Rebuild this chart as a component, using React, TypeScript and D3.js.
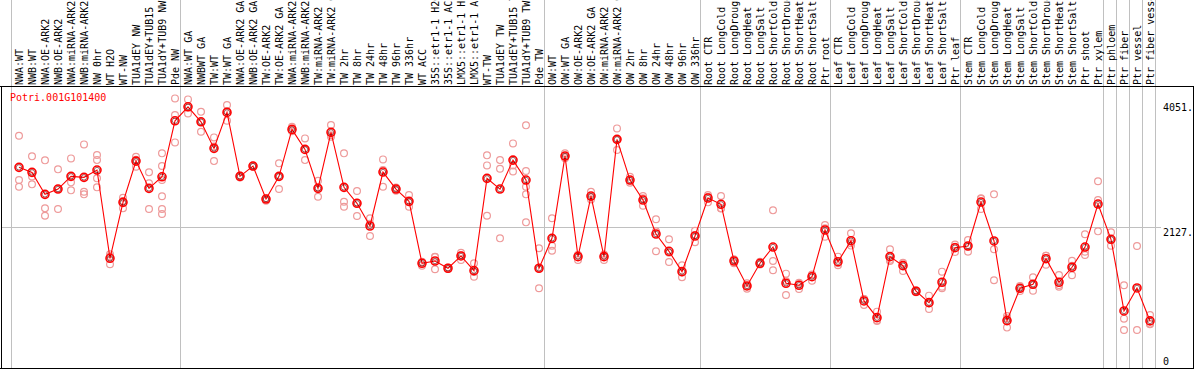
import React from "react";
import * as d3 from "d3";

const title = "Potri.001G101400";

const labels: string[] = [
  "NWA:WT", "NWB:WT", "NWA:OE-ARK2", "NWB:OE-ARK2", "NWA:miRNA-ARK2", "NWB:miRNA-ARK2", "NW 0hr", "WT H2O", "WT-NW", "TUA1dEY NW", "TUA1dEY+TUB15 NW", "TUA1dY+TUB9 NW", "Pde NW",
  "NWA:WT GA", "NWBWT GA", "TW:WT", "TW:WT GA", "NWA:OE-ARK2 GA", "NWB:OE-ARK2 GA", "TW:OE-ARK2", "TW:OE-ARK2 GA", "NWA:miRNA-ARK2 GA", "NWB:miRNA-ARK2 GA", "TW:miRNA-ARK2", "TW:miRNA-ARK2 GA", "TW 2hr", "TW 8hr", "TW 24hr", "TW 48hr", "TW 96hr", "TW 336hr", "WT ACC", "35S::etr1-1 H2O", "35S::etr1-1 ACC", "LMX5::etr1-1 H2O", "LMX5::etr1-1 ACC", "WT-TW", "TUA1dEY TW", "TUA1dEY+TUB15 TW", "TUA1dY+TUB9 TW", "Pde TW",
  "OW:WT", "OW:WT GA", "OW:OE-ARK2", "OW:OE-ARK2 GA", "OW:miRNA-ARK2", "OW:miRNA-ARK2 GA", "OW 2hr", "OW 8hr", "OW 24hr", "OW 48hr", "OW 96hr", "OW 336hr",
  "Root CTR", "Root LongCold", "Root LongDrought", "Root LongHeat", "Root LongSalt", "Root ShortCold", "Root ShortDrought", "Root ShortHeat", "Root ShortSalt", "Ptr root",
  "Leaf CTR", "Leaf LongCold", "Leaf LongDrought", "Leaf LongHeat", "Leaf LongSalt", "Leaf ShortCold", "Leaf ShortDrought", "Leaf ShortHeat", "Leaf ShortSalt", "Ptr leaf",
  "Stem CTR", "Stem LongCold", "Stem LongDrought", "Stem LongHeat", "Stem LongSalt", "Stem ShortCold", "Stem ShortDrought", "Stem ShortHeat", "Stem ShortSalt", "Ptr shoot", "Ptr xylem",
  "Ptr phloem", "Ptr fiber", "Ptr vessel", "Ptr fiber vessel",
];

const means: number[] = [
  3090, 3010, 2661, 2745, 2947, 2931, 3047, 1646, 2534, 3189, 2756, 2940, 3829,
  4051, 3813, 3391, 3962, 2947, 3110, 2587, 2947, 3692, 3375, 2756, 3645, 2772, 2519, 2159, 3015, 2745, 2550, 1567, 1603, 1488, 1683, 1450, 2915, 2745, 3205, 2888, 1488,
  1963, 3269, 1672, 2634, 1672, 3534, 2888, 2571, 2032, 1757, 1434, 2000,
  2603, 2503, 1603, 1207, 1567, 1825, 1250, 1218, 1354, 2095,
  1592, 1925, 969, 704, 1672, 1529, 1123, 942, 1266, 1814,
  1841, 2539, 1921, 657, 1170, 1234, 1640, 1266, 1504, 1825, 2507,
  1948, 810, 1175, 652,
];

const replicates: number[][] = [
  [3591, 2888, 2782], [3264, 2946, 2820], [3201, 2439, 2322], [3058, 2749, 2428], [3232, 2852, 2725],
  [3454, 2703, 2661], [3285, 3205, 2915, 2772], [1710, 1677, 1551], [2607, 2556, 2439], [3258, 3210, 3099],
  [3010, 2836, 2428], [3312, 3110, 2888, 2630, 2428, 2349], [4184, 3919, 3486],
  [4168, 4039, 3946], [3971, 3814, 3654], [3565, 3419, 3189], [4078, 3979, 3829], [2960, 2930, 2950],
  [3120, 3100, 3110], [2600, 2587, 2560], [3153, 2943, 2745], [3733, 3680, 3663], [3549, 3371, 3205],
  [2877, 2768, 2623], [3760, 3600, 3575], [3312, 2544, 2465], [2714, 2526, 2317], [2281, 2196, 2000],
  [3216, 3047, 2782], [2770, 2745, 2720], [2650, 2535, 2465], [1592, 1580, 1529], [1672, 1665, 1472],
  [1500, 1488, 1476], [1735, 1695, 1619], [1567, 1429, 1354], [3280, 3121, 2322], [3205, 3067, 1963],
  [3470, 3121, 3024], [3756, 3031, 2782, 2661, 2217], [1805, 1489, 1170],
  [2281, 1846, 1767], [3312, 3260, 3235], [1700, 1697, 1619], [2703, 2620, 2580], [1707, 1690, 1619],
  [3708, 3530, 3364], [2940, 2879, 2845], [2634, 2599, 2480], [2265, 2074, 1757], [1948, 1735, 1588],
  [1535, 1422, 1345], [2084, 2016, 1900],
  [2652, 2623, 2534], [2634, 2439, 2436], [1630, 1612, 1567], [1250, 1207, 1164], [1592, 1560, 1549],
  [2407, 1603, 1456], [1402, 1284, 1064], [1259, 1236, 1159], [1390, 1381, 1291], [2174, 2122, 1989],
  [1672, 1569, 1535], [2043, 1884, 1848], [1001, 1000, 906], [799, 661, 652], [1789, 1624, 1603],
  [1575, 1567, 1445], [1140, 1123, 1106], [1053, 931, 842], [1434, 1194, 1170], [1866, 1830, 1746],
  [1937, 1835, 1751], [2598, 2591, 2428], [2661, 1789, 1297], [730, 695, 546], [1207, 1175, 1128],
  [1345, 1225, 1132], [1688, 1687, 1545], [1381, 1221, 1196], [1608, 1527, 1377], [2027, 1749, 1699],
  [2868, 2571, 2074],
  [2059, 1939, 1846], [1218, 688, 509], [1841, 509], [747, 609, 600],
];

const groupBreaks: number[] = [0, 13, 41, 53, 63, 73, 84, 85, 86, 87, 88];
const yTickValues: number[] = [0, 2127, 4051];
const yMax = 4254;

const W = 1194;
const H = 370;
const FONT = "'DejaVu Sans Mono', 'Liberation Mono', monospace";

export default function App() {
  const n = labels.length;
  // column boundaries
  const xb = d3.scaleLinear().domain([0, n]).range([11, 1155]);
  const px = (i: number) => xb(i) + 8;
  const y = d3.scaleLinear().domain([0, yMax]).range([362, 94]);

  const topLine = 86.5;
  const bottomLine = 368.5;

  const line = d3
    .line<number>()
    .x((_, i) => px(i))
    .y((d) => y(d));

  const tickBaseline = (v: number) => {
    if (v === 0) return y(v) + 3.3;
    if (v === 2127) return y(v) + 7.7;
    return y(v) + 3.9;
  };

  return (
    <svg
      width={W}
      height={H}
      style={{ position: "fixed", left: 0, top: 0, background: "#fff" }}
      fontFamily={FONT}
    >
      <rect x={0} y={0} width={W} height={H} fill="#fff" />
      {/* vertical group gridlines */}
      {groupBreaks.map((k) => (
        <line
          key={"g" + k}
          x1={Math.round(xb(k)) + 0.5}
          x2={Math.round(xb(k)) + 0.5}
          y1={0}
          y2={bottomLine}
          stroke="#c0c0c0"
          strokeWidth={1}
          shapeRendering="crispEdges"
        />
      ))}
      {/* horizontal mid gridline */}
      <line
        x1={1}
        x2={1161}
        y1={Math.floor(y(2127)) - 0.5}
        y2={Math.floor(y(2127)) - 0.5}
        stroke="#c0c0c0"
        strokeWidth={1}
        shapeRendering="crispEdges"
      />
      {/* frame */}
      <line x1={0} x2={W} y1={topLine} y2={topLine} stroke="#000" shapeRendering="crispEdges" />
      <line x1={0} x2={W} y1={bottomLine} y2={bottomLine} stroke="#000" shapeRendering="crispEdges" />
      <line x1={1.5} x2={1.5} y1={topLine} y2={bottomLine} stroke="#000" shapeRendering="crispEdges" />
      <line x1={1193.5} x2={1193.5} y1={topLine} y2={bottomLine} stroke="#000" shapeRendering="crispEdges" />

      {/* rotated category labels */}
      {labels.map((lab, i) => (
        <text
          key={"l" + i}
          transform={`translate(${px(i) + 3.7},85) rotate(-90)`}
          fontSize={10}
          fill="#000"
        >
          {lab}
        </text>
      ))}

      {/* title */}
      <text x={10} y={100.6} fontSize={10} fill="#ff0000">
        {title}
      </text>

      {/* y tick labels */}
      {yTickValues.map((v) => (
        <text key={"t" + v} x={1163} y={tickBaseline(v)} fontSize={10} fill="#000">
          {v === 0 ? "0" : v + "."}
        </text>
      ))}

      {/* replicates */}
      {replicates.map((reps, i) =>
        reps.map((v, j) => (
          <circle
            key={`r${i}-${j}`}
            cx={px(i)}
            cy={y(v)}
            r={3.4}
            fill="none"
            stroke="#ee9a9a"
            strokeWidth={1.2}
          />
        ))
      )}

      {/* mean line */}
      <path d={line(means) || ""} fill="none" stroke="#ff0000" strokeWidth={1.1} />

      {/* mean markers */}
      {means.map((v, i) => (
        <g key={"m" + i}>
          <circle cx={px(i)} cy={y(v)} r={4} fill="none" stroke="#ff0000" strokeWidth={1.6} />
          <circle cx={px(i)} cy={y(v)} r={2.7} fill="none" stroke="#600000" strokeWidth={0.6} />
        </g>
      ))}
    </svg>
  );
}
